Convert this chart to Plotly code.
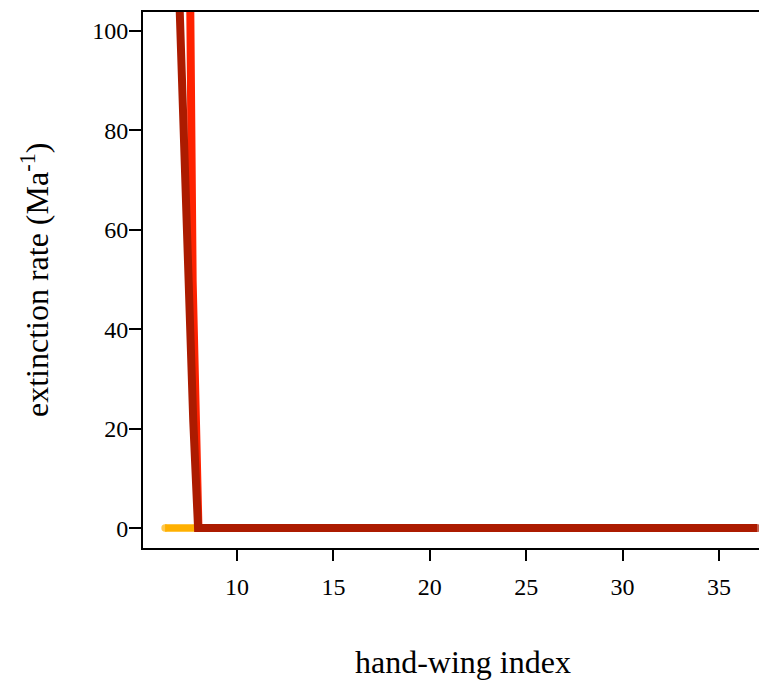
import plotly.graph_objects as go

# hand-wing index (x) and extinction rate (y, Ma^-1)
orange_x = [6.27, 36.97]
orange_y = [0, 0]

bright_x = [7.53, 7.58, 7.64, 7.70, 7.87, 8.00, 36.97]
bright_y = [125, 103.8, 77.8, 49.7, 21.6, 0, 0]

dark_x = [6.85, 7.01, 7.24, 7.46, 7.73, 7.98, 36.97]
dark_y = [125, 103.8, 77.8, 49.7, 21.6, 0, 0]

x_ticks = [10, 15, 20, 25, 30, 35]
y_ticks = [0, 20, 40, 60, 80, 100]

FONT = "Liberation Serif, Times New Roman, serif"

def caps(n, first, last, size):
    s = [0] * n
    if first:
        s[0] = size
    if last:
        s[-1] = size
    return s

fig = go.Figure()
fig.add_trace(go.Scatter(x=orange_x, y=orange_y, mode="lines+markers",
                         line=dict(color="#FFB000", width=7.5),
                         marker=dict(color="#FFB000", size=caps(len(orange_x), True, False, 7.5), line=dict(width=0)),
                         showlegend=False, hoverinfo="skip"))
fig.add_trace(go.Scatter(x=bright_x, y=bright_y, mode="lines",
                         line=dict(color="#FF2200", width=8),
                         showlegend=False, hoverinfo="skip"))
fig.add_trace(go.Scatter(x=dark_x, y=dark_y, mode="lines+markers",
                         line=dict(color="#AC1B00", width=8),
                         marker=dict(color="#AC1B00", size=caps(len(dark_x), False, True, 8), line=dict(width=0)),
                         showlegend=False, hoverinfo="skip"))

fig.update_layout(
    width=767, height=686,
    margin=dict(l=135, r=8, t=2, b=146),
    paper_bgcolor="white", plot_bgcolor="white",
    font=dict(family=FONT, color="black", size=24),
    xaxis=dict(range=[5.124, 37.49], tickvals=x_ticks, ticktext=[str(v) for v in x_ticks],
               ticks="outside", ticklen=11, tickwidth=2, tickcolor="black",
               showline=True, linewidth=2, linecolor="black", mirror=True,
               showgrid=False, zeroline=False, ticklabelstandoff=5,
               tickfont=dict(family=FONT, size=24)),
    yaxis=dict(range=[-4.0, 103.8], tickvals=y_ticks, ticktext=[str(v) for v in y_ticks],
               ticks="outside", ticklen=12, tickwidth=2, tickcolor="black",
               showline=True, linewidth=2, linecolor="black", mirror=False,
               showgrid=False, zeroline=False, ticklabelstandoff=-4,
               tickfont=dict(family=FONT, size=24)),
    annotations=[
        dict(text="hand-wing index", xref="paper", yref="paper", x=0.513, y=-0.212,
             xanchor="center", yanchor="middle", showarrow=False,
             font=dict(family=FONT, size=32)),
        dict(text="extinction rate (Ma<sup>-1</sup>)", xref="paper", yref="paper", x=-0.173, y=0.5,
             xanchor="center", yanchor="middle", textangle=-90, showarrow=False,
             font=dict(family=FONT, size=32)),
    ],
)

fig.write_html("out.html")
